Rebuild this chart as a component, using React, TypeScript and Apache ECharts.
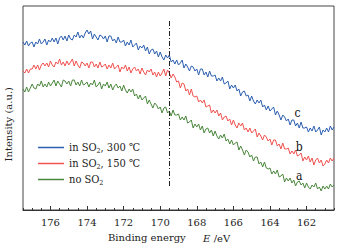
import React, { useEffect, useRef } from "react";
import * as echarts from "echarts";

// Binding energy grid: 177.5 eV down to 160.5 eV, 0.1 eV step
const E_START = 177.5;
const E_STEP = 0.1;
const N_POINTS = 171;
const energies: string[] = Array.from({ length: N_POINTS }, (_, i) => (E_START - i * E_STEP).toFixed(1));

const seriesNames = ["in SO2, 300 ℃", "in SO2, 150 ℃", "no SO2"];
const curveLabels = ["c", "b", "a"];
const labelEnergy = ["162.5", "162.4", "162.4"];
const labelValue = [98, 64, 35];
const refLineEnergy = "169.5";
const refLineRange = [190, 23];
const tickLabels = [176, 174, 172, 170, 168, 166, 164, 162];

// c: in SO2, 300 ℃
const curveC = [
  169, 166, 170, 165, 168,
  169, 164, 169, 167, 172, 167, 169, 172, 166, 171,
  169, 173, 169, 173, 167, 173, 175, 171, 175, 170,
  176, 172, 171, 176, 174, 179, 173, 176, 173, 178,
  181, 177, 180, 172, 177, 174, 171, 176, 175, 172,
  175, 169, 175, 175, 170, 172, 168, 174, 169, 169,
  171, 165, 169, 166, 171, 164, 166, 168, 161, 165,
  163, 166, 160, 164, 157, 161, 162, 157, 160, 154,
  159, 154, 151, 156, 153, 156, 149, 151, 147, 151,
  146, 148, 151, 143, 147, 144, 140, 145, 144, 140,
  142, 136, 142, 142, 136, 139, 134, 140, 135, 135,
  136, 130, 133, 130, 134, 127, 128, 130, 122, 126,
  123, 126, 120, 122, 115, 119, 120, 115, 116, 110,
  115, 110, 107, 111, 108, 111, 104, 106, 101, 105,
  100, 102, 104, 96, 100, 96, 91, 96, 94, 90,
  92, 86, 91, 91, 85, 88, 83, 89, 83, 83,
  84, 79, 83, 80, 85, 79, 81, 84, 76, 81,
  79, 83, 79, 85, 81, 84,
];

// b: in SO2, 150 ℃
const curveB = [
  140, 138, 142, 138, 142,
  142, 146, 142, 146, 141, 146, 148, 145, 148, 144,
  150, 146, 144, 149, 147, 152, 146, 149, 145, 150,
  146, 149, 152, 145, 150, 146, 143, 149, 148, 145,
  148, 143, 149, 149, 144, 147, 143, 149, 144, 145,
  147, 142, 146, 143, 148, 142, 144, 146, 139, 144,
  142, 146, 140, 144, 138, 142, 144, 140, 142, 137,
  143, 139, 136, 141, 139, 142, 136, 139, 134, 139,
  135, 138, 142, 135, 141, 138, 133, 137, 134, 129,
  130, 123, 128, 127, 120, 122, 116, 122, 115, 114,
  115, 109, 111, 108, 111, 104, 105, 106, 98, 101,
  98, 101, 95, 98, 91, 94, 95, 90, 92, 86,
  91, 86, 83, 88, 85, 88, 81, 83, 79, 83,
  78, 80, 82, 74, 78, 75, 71, 76, 74, 70,
  72, 66, 71, 71, 65, 67, 62, 68, 62, 62,
  63, 57, 60, 57, 61, 55, 56, 58, 50, 54,
  51, 55, 49, 53, 46, 51, 53, 48, 51, 45,
  47, 51, 48, 53, 50, 53,
];

// a: no SO2
const curveA = [
  122, 119, 124, 119, 123,
  127, 123, 122, 127, 125, 130, 124, 127, 124, 129,
  125, 128, 131, 125, 130, 127, 124, 131, 130, 127,
  130, 125, 131, 131, 126, 129, 125, 131, 126, 127,
  129, 124, 128, 126, 131, 124, 126, 129, 122, 127,
  125, 129, 123, 127, 121, 125, 127, 123, 125, 120,
  126, 121, 118, 122, 119, 122, 115, 117, 112, 116,
  111, 113, 115, 107, 111, 107, 103, 108, 106, 102,
  104, 98, 103, 104, 98, 100, 95, 101, 96, 96,
  97, 91, 94, 91, 95, 88, 89, 91, 83, 87,
  84, 87, 81, 85, 78, 82, 83, 78, 81, 75,
  80, 75, 72, 76, 73, 77, 70, 72, 67, 71,
  66, 68, 69, 61, 65, 61, 56, 61, 59, 54,
  56, 50, 54, 54, 47, 49, 44, 49, 43, 42,
  43, 37, 40, 37, 41, 34, 35, 37, 29, 33,
  30, 33, 28, 31, 25, 29, 30, 26, 28, 23,
  28, 24, 22, 26, 24, 28, 22, 24, 20, 25,
  22, 25, 22, 27, 24, 26,
];

const curves = [curveC, curveB, curveA];
const colors = ["#2c5fb0", "#f0524e", "#4a873c"];

const FONT_C = "DejaVu Serif Condensed";
const FONT = "DejaVu Serif";

const isEvenInt = (v: string) => {
  const n = Number(v);
  const r = Math.round(n);
  return Math.abs(n - r) < 0.01 && tickLabels.includes(r);
};
const isHalf = (idx: number) => idx % 5 === 0;

export default function App() {
  const ref = useRef<HTMLDivElement>(null);
  useEffect(() => {
    if (!ref.current) return;
    const chart = echarts.init(ref.current, undefined, { renderer: "svg" });
    const series: any[] = curves.map((d, i) => ({
      name: seriesNames[i],
      type: "line",
      data: d,
      showSymbol: false,
      symbol: "none",
      lineStyle: { color: colors[i], width: 1 },
      itemStyle: { color: colors[i] },
      markPoint: {
        symbol: "circle",
        symbolSize: 0,
        silent: true,
        label: {
          show: true,
          formatter: curveLabels[i],
          fontFamily: FONT_C,
          fontSize: 12,
          color: "#111",
          position: "inside",
        },
        data: [{ coord: [labelEnergy[i], labelValue[i]] }],
      },
    }));
    series[0].markLine = {
      symbol: "none",
      silent: true,
      label: { show: false },
      lineStyle: { color: "#222", width: 1, type: [5, 2, 1, 2] },
      data: [[{ coord: [refLineEnergy, refLineRange[0]] }, { coord: [refLineEnergy, refLineRange[1]] }]],
    };
    const sub = (name: string) => {
      const m = name.split("SO2");
      return `{t|${m[0]}SO}{s|2}{t|${m[1]}}`;
    };
    chart.setOption({
      animation: false,
      textStyle: { fontFamily: FONT },
      grid: {
        left: 23,
        right: 15,
        top: 6,
        bottom: 41,
        show: true,
        borderColor: "#444",
        borderWidth: 1,
        backgroundColor: "transparent",
      },
      legend: {
        orient: "vertical",
        left: 34,
        top: 140,
        icon: "rect",
        itemWidth: 26,
        itemHeight: 1.5,
        itemGap: 4,
        backgroundColor: "#fff",
        padding: [2, 4, 2, 4],
        data: seriesNames,
        formatter: sub,
        textStyle: {
          fontFamily: FONT_C,
          fontSize: 11,
          color: "#222",
          rich: {
            t: { fontFamily: FONT_C, fontSize: 11, color: "#222" },
            s: { fontFamily: FONT_C, fontSize: 7, color: "#222", padding: [6, 0, 0, 0] },
          },
        },
      },
      xAxis: [
        {
          type: "category",
          data: energies,
          boundaryGap: false,
          axisLine: { show: true, lineStyle: { color: "#333", width: 1 } },
          axisTick: {
            show: true,
            inside: true,
            length: 2,
            interval: (idx: number) => isHalf(idx),
            lineStyle: { color: "#333" },
          },
          axisLabel: {
            show: true,
            interval: (_idx: number, v: string) => isEvenInt(v),
            formatter: (v: string) => `{t|${Math.round(Number(v))}}`,
            fontFamily: FONT,
            fontSize: 10,
            color: "#222",
            margin: 7,
            rich: { t: { fontFamily: FONT, fontSize: 10, color: "#222" } },
          },
          splitLine: { show: false },
        },
        {
          type: "category",
          data: energies,
          boundaryGap: false,
          position: "bottom",
          axisLine: { show: false },
          axisTick: {
            show: true,
            inside: true,
            length: 4,
            interval: (_idx: number, v: string) => isEvenInt(v),
            lineStyle: { color: "#333" },
          },
          axisLabel: { show: false },
          splitLine: { show: false },
        },
      ],
      yAxis: {
        type: "value",
        min: 1,
        max: 205,
        axisLine: { show: false },
        axisTick: { show: false },
        axisLabel: { show: false },
        splitLine: { show: false },
      },
      graphic: [
        {
          type: "text",
          left: 3,
          top: 87,
          rotation: Math.PI / 2,
          style: {
            text: "{t|Intensity (a.u.)}",
            rich: { t: { fontFamily: FONT, fontSize: 10, fill: "#222", color: "#222" } },
          },
        },
        {
          type: "text",
          left: 108,
          top: 232,
          style: {
            text: "{t|Binding energy}",
            rich: { t: { fontFamily: FONT, fontSize: 10, fill: "#222", color: "#222" } },
          },
        },
        {
          type: "text",
          left: 203,
          top: 232,
          style: {
            text: "{i|E} {t|/eV}",
            rich: {
              t: { fontFamily: FONT, fontSize: 10, fill: "#222", color: "#222" },
              i: { fontFamily: FONT, fontSize: 10, fontStyle: "italic", fill: "#222", color: "#222" },
            },
          },
        },
      ],
      series,
    });
    return () => chart.dispose();
  }, []);
  return (
    <div
      ref={ref}
      style={{ position: "fixed", left: 0, top: 0, width: 349, height: 251, background: "#fff" }}
    />
  );
}
